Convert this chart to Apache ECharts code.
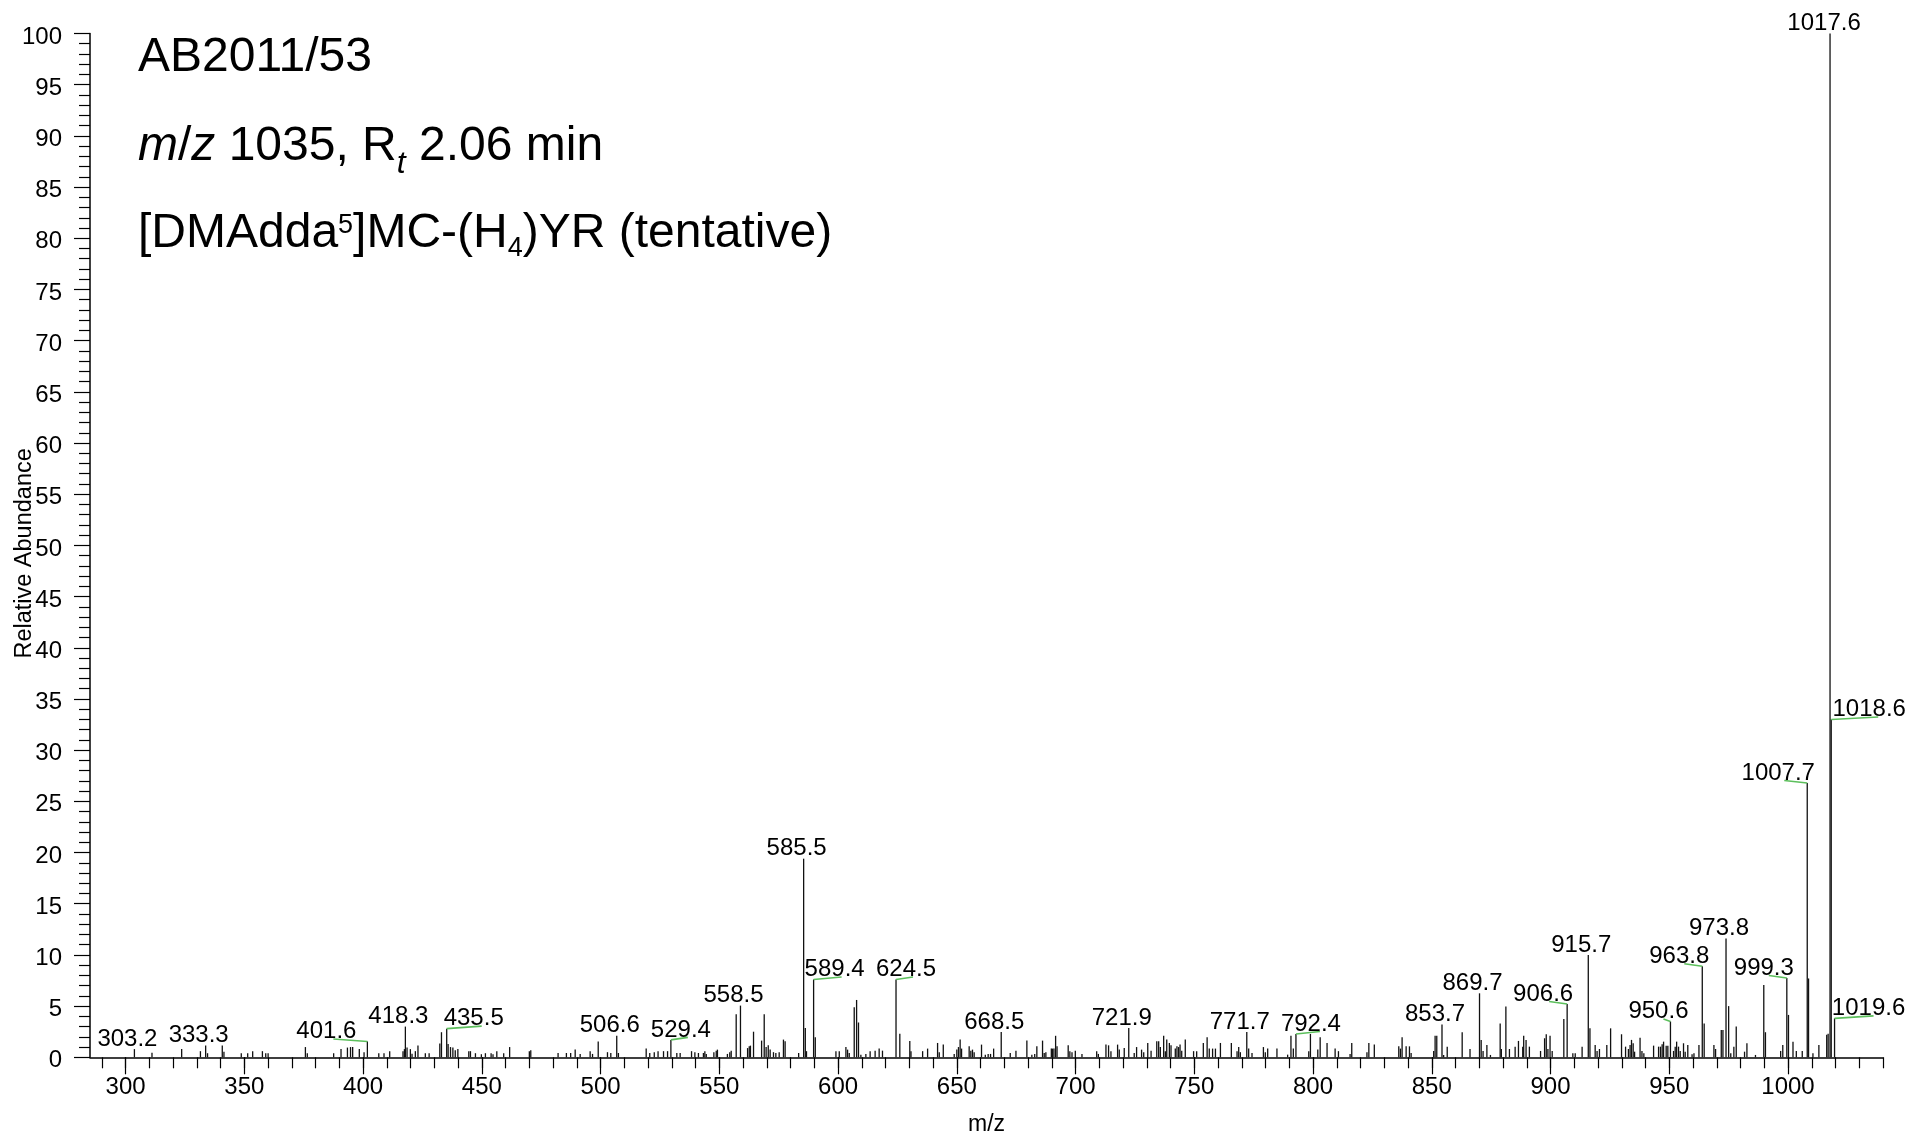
<!DOCTYPE html>
<html><head><meta charset="utf-8">
<script src="https://cdn.jsdelivr.net/npm/echarts@6/dist/echarts.min.js"></script>
<style>html,body{margin:0;padding:0;background:#fff}#c{width:1928px;height:1137px}</style>
</head><body><div id="c"></div>
<script>
// ---------------- DATA ----------------
const peakMz = [
303.7,311.1,323.6,331.5,333.7,334.5,340.7,341.4,348.7,351.4,353.5,357.6,359.0,360.0,375.7,376.5,387.6,390.7,393.4,394.7,
395.6,398.4,400.4,401.8,406.6,408.8,411.2,416.8,417.4,417.8,418.5,419.9,420.6,422.0,423.1,426.2,427.8,432.3,433.0,435.2,
435.8,436.8,437.8,438.8,439.9,444.5,445.2,447.3,449.8,451.5,453.9,454.7,456.3,459.2,461.7,470.0,470.6,482.1,485.6,487.4,
489.3,491.4,495.6,496.6,499.0,502.9,504.3,506.8,507.5,519.2,520.7,522.6,524.2,526.5,528.2,529.6,532.1,533.5,538.3,539.7,
541.2,543.3,543.9,544.5,547.7,548.7,549.2,553.4,554.4,555.0,557.1,558.9,561.9,562.6,563.1,564.4,567.8,568.9,569.7,570.6,
571.4,572.8,573.8,575.2,577.0,577.7,583.4,585.5,586.2,586.7,589.7,590.4,599.1,600.5,603.3,604.0,604.7,606.8,607.8,608.6,
609.6,611.7,613.5,615.6,617.3,618.7,624.4,626.0,630.2,630.7,635.6,637.7,641.9,642.6,644.3,648.9,650.0,650.7,651.4,652.0,
655.2,655.9,656.6,657.3,660.4,662.0,663.2,664.2,665.5,668.7,672.5,674.9,679.5,681.6,682.8,683.7,686.1,686.8,687.5,689.8,
690.3,690.9,691.6,692.2,696.9,697.6,698.5,699.9,702.7,708.9,709.6,712.8,713.9,714.9,717.7,718.4,720.5,722.4,724.7,725.7,
727.8,728.7,730.4,731.8,734.2,735.0,735.7,737.1,737.8,738.4,739.5,740.2,742.0,742.7,743.4,744.0,744.7,746.2,749.7,751.0,
753.8,755.4,756.3,757.7,758.9,761.0,765.6,768.0,768.7,769.4,772.1,772.9,774.3,779.1,779.9,780.9,784.8,789.3,790.7,791.7,
792.8,798.2,798.9,802.0,803.0,805.9,809.3,810.7,815.6,816.3,822.7,823.5,825.8,836.1,836.8,837.5,839.2,840.6,841.3,850.8,
851.4,852.1,854.3,855.0,856.5,862.8,866.1,870.1,870.8,871.6,873.2,874.7,878.8,879.3,881.2,882.7,885.1,886.5,888.3,888.7,
889.7,891.1,895.8,897.5,898.2,898.9,899.8,900.7,905.6,907.0,909.4,910.4,913.3,915.9,916.6,918.8,919.6,920.6,923.7,925.3,
929.9,931.6,932.8,933.5,934.1,934.8,935.4,937.7,938.5,939.3,943.4,945.5,946.3,947.0,947.6,948.7,949.4,950.5,951.8,952.5,
953.1,953.9,954.6,956.0,956.7,957.8,959.6,960.4,962.5,963.9,964.7,968.8,969.5,971.9,972.6,973.9,975.0,975.9,977.2,978.2,
981.7,982.7,986.3,989.8,990.5,996.9,997.8,999.5,1000.2,1002.1,1003.5,1006.0,1008.1,1008.65,1010.5,1013.0,1016.3,1016.9,1017.7,1018.2,
1019.6
];
const peakInt = [
0.8,0.45,0.8,0.6,1.15,0.4,1.15,0.55,0.4,0.4,0.6,0.6,0.4,0.4,1.0,0.4,0.4,0.8,0.95,1.0,
1.0,0.8,0.5,1.55,0.4,0.4,0.6,0.6,0.8,3.0,0.95,0.8,0.35,0.6,1.15,0.4,0.4,1.35,2.45,2.8,
1.3,1.0,0.95,0.7,0.8,0.6,0.6,0.4,0.3,0.4,0.4,0.3,0.6,0.4,1.0,0.6,0.7,0.42,0.42,0.42,
0.75,0.33,0.6,0.33,1.55,0.5,0.42,2.1,0.42,0.85,0.42,0.5,0.6,0.6,0.6,1.7,0.42,0.42,0.6,0.5,
0.42,0.42,0.6,0.33,0.5,0.65,0.75,0.33,0.5,0.65,4.2,5.05,0.9,1.07,1.14,2.5,1.63,4.2,1.0,1.17,
0.75,0.5,0.42,0.5,1.73,1.56,0.42,19.4,2.87,0.6,7.6,1.95,0.6,0.6,1.0,0.75,0.42,4.9,5.6,3.4,
0.26,0.33,0.6,0.65,0.85,0.65,7.6,2.3,1.6,0.6,0.6,0.85,1.4,0.5,1.24,0.33,0.75,1.0,1.73,0.85,
1.07,0.65,0.75,0.5,1.24,0.26,0.33,0.33,0.85,2.48,0.42,0.65,1.63,0.26,0.33,1.07,1.63,0.42,0.5,0.85,
0.85,0.85,2.1,1.07,1.17,0.6,0.5,0.65,0.33,0.6,0.33,1.24,1.17,0.6,1.24,0.75,0.9,2.87,0.42,1.0,
0.75,0.5,1.4,0.65,1.56,1.56,1.0,2.1,0.6,1.73,1.4,1.17,0.85,1.07,1.0,1.24,0.65,1.73,0.6,0.6,
1.4,1.95,0.85,0.85,0.85,1.4,1.4,0.6,1.0,0.5,2.48,0.85,0.42,1.0,0.5,0.85,0.85,0.26,2.1,0.85,
2.28,0.6,2.28,0.75,1.95,1.4,0.85,0.6,0.33,1.4,0.5,1.4,1.24,1.07,0.85,1.95,1.07,1.07,0.42,0.62,
2.1,2.1,3.2,0.23,1.04,2.45,0.81,6.25,1.7,0.62,1.2,0.23,3.3,0.81,4.95,0.81,1.04,1.6,1.04,2.1,
1.7,1.04,0.62,1.86,2.25,0.81,2.1,0.62,3.75,5.2,0.39,0.39,1.04,10.0,2.83,1.2,0.62,0.81,1.2,2.83,
2.25,1.04,0.81,1.2,1.7,1.37,0.55,1.92,0.62,0.39,1.14,1.04,1.04,1.27,1.53,1.14,1.14,3.5,0.62,1.04,
1.53,1.04,0.62,1.37,0.55,1.2,0.29,0.39,1.2,8.9,3.3,1.2,0.81,2.67,2.67,11.6,5.0,0.39,1.04,3.0,
0.55,1.37,0.23,7.07,2.45,0.62,1.2,7.75,4.14,1.53,0.62,0.62,26.8,7.7,0.39,1.2,2.2,2.3,100,33.0,
3.8
];
// labelled peaks: position (as in peakMz) and printed text
const labelMz = [303.7,333.7,401.8,417.8,435.2,506.8,529.6,558.9,585.5,589.7,624.4,668.7,722.4,772.1,792.8,
  854.3,870.1,907.0,915.9,950.5,963.9,973.9,999.5,1008.1,1017.7,1018.2,1019.6];
const labelText = ['303.2','333.3','401.6','418.3','435.5','506.6','529.4','558.5','585.5','589.4','624.5','668.5','721.9','771.7','792.4',
  '853.7','869.7','906.6','915.7','950.6','963.8','973.8','999.3','1007.7','1017.6','1018.6','1019.6'];
const xMajorTicks = [300,350,400,450,500,550,600,650,700,750,800,850,900,950,1000];
const xMinorTicks = [290,300,310,320,330,340,350,360,370,380,390,400,410,420,430,440,450,460,470,480,490,500,510,520,530,540,
  550,560,570,580,590,600,610,620,630,640,650,660,670,680,690,700,710,720,730,740,750,760,770,780,790,800,810,820,830,840,
  850,860,870,880,890,900,910,920,930,940,950,960,970,980,990,1000,1010,1020,1030,1040];

// ---------------- LAYOUT (label placement, px) ----------------
const labelDx =  [-7,-7,-41,-7,27,-7,10,-7,-7,21,10,-7,-7,-7,15, -7,-7,-24,-7,-12,-23,-7,-23,-29,-6,38,34];
const leaderDx = [0,0,-34,0,35,0,17,0,0,28,17,0,0,0,24, 0,0,-18,0,-7,-18,0,-18,-23,0,47,39];

const FONT = '"Liberation Sans", Arial, Helvetica, sans-serif';
const chart = echarts.init(document.getElementById('c'), null, {renderer: 'canvas'});

const peakData = peakMz.map((m, i) => [m, peakInt[i]]);
const labelData = labelMz.map((m, i) => [m, peakInt[peakMz.indexOf(m)], i]);

const titleRich = {
  n: {fontSize: 48, fontFamily: FONT, color: '#000', lineHeight: 58},
  i: {fontSize: 48, fontFamily: FONT, fontStyle: 'italic', color: '#000', lineHeight: 58},
  sub: {fontSize: 32, fontFamily: FONT, fontStyle: 'italic', color: '#000', lineHeight: 20, padding: [34, 0, 0, 0]},
  sup: {fontSize: 27, fontFamily: FONT, color: '#000', lineHeight: 20, padding: [0, 0, 16, 0]},
  sub2: {fontSize: 27, fontFamily: FONT, color: '#000', lineHeight: 20, padding: [30, 0, 0, 0]}
};

const option = {
  backgroundColor: '#fff',
  animation: false,
  grid: {left: 90, right: 45, top: 33.5, bottom: 79.7, containLabel: false, outerBoundsMode: 'none'},
  xAxis: [{
    type: 'value', min: 285, max: 1040,
    name: 'm/z', nameLocation: 'middle', nameGap: 55.5, nameMoveOverlap: false,
    nameTextStyle: {fontSize: 23, fontFamily: FONT, color: '#000'},
    axisLine: {show: true, onZero: false, lineStyle: {color: '#000', width: 1.5}},
    axisTick: {show: true, customValues: xMajorTicks, length: 17, lineStyle: {color: '#000', width: 1.2}},
    axisLabel: {customValues: xMajorTicks, fontSize: 24, fontFamily: FONT, color: '#000', margin: 18,
      formatter: function (v) { return String(v); }},
    splitLine: {show: false}
  }, {
    type: 'value', min: 285, max: 1040, position: 'bottom',
    axisLine: {show: false},
    axisTick: {show: true, customValues: xMinorTicks, length: 11, lineStyle: {color: '#000', width: 1.2}},
    axisLabel: {show: false},
    splitLine: {show: false}
  }],
  yAxis: {
    type: 'value', min: 0, max: 100, interval: 5,
    name: 'Relative Abundance', nameLocation: 'middle', nameGap: 53.5, nameRotate: 90, nameMoveOverlap: false,
    nameTextStyle: {fontSize: 23.5, fontFamily: FONT, color: '#000', padding: [0, 16, 0, 0]},
    axisLine: {show: true, lineStyle: {color: '#000', width: 1.5}},
    axisTick: {show: true, length: 16, lineStyle: {color: '#000', width: 1.2}},
    minorTick: {show: true, splitNumber: 5, length: 11, lineStyle: {color: '#000', width: 1.2}},
    axisLabel: {margin: 28,
      formatter: function (v) { return '{a|' + v + '}'; },
      rich: {a: {fontSize: 24, fontFamily: FONT, color: '#000', lineHeight: 26, padding: [7, 0, 0, 0]}}},
    splitLine: {show: false}, minorSplitLine: {show: false}
  },
  graphic: [
    {type: 'text', x: 138, y: 58, style: {text: 'AB2011/53', font: '48px ' + FONT, fill: '#000', verticalAlign: 'middle', align: 'left'}},
    {type: 'text', x: 138, y: 147, style: {text: '{i|m}{n|/}{i|z}{n| 1035, R}{sub|t}{n| 2.06 min}', rich: titleRich, verticalAlign: 'middle', align: 'left'}},
    {type: 'text', x: 138, y: 234, style: {text: '{n|[DMAdda}{sup|5}{n|]MC-(H}{sub2|4}{n|)YR (tentative)}', rich: titleRich, verticalAlign: 'middle', align: 'left'}}
  ],
  series: [{
    type: 'custom', name: 'peaks', xAxisIndex: 0, yAxisIndex: 0,
    encode: {x: 0, y: 1},
    data: peakData,
    renderItem: function (params, api) {
      const p0 = api.coord([api.value(0), 0]);
      const p1 = api.coord([api.value(0), api.value(1)]);
      return {type: 'line', silent: true,
        shape: {x1: p0[0], y1: p0[1], x2: p1[0], y2: p1[1]},
        style: {stroke: '#111', lineWidth: 1.3}};
    }
  }, {
    type: 'custom', name: 'labels', xAxisIndex: 0, yAxisIndex: 0,
    encode: {x: 0, y: 1},
    data: labelData,
    z: 3,
    renderItem: function (params, api) {
      const i = api.value(2);
      const top = api.coord([api.value(0), api.value(1)]);
      const children = [];
      if (leaderDx[i]) {
        children.push({type: 'line', silent: true,
          shape: {x1: top[0], y1: top[1], x2: top[0] + leaderDx[i], y2: top[1] - 2.5},
          style: {stroke: '#5cbf5c', lineWidth: 1.6}});
      }
      children.push({type: 'text', silent: true, x: top[0] + labelDx[i], y: top[1] - 10,
        style: {text: labelText[i], font: '24px ' + FONT, fill: '#000',
          align: 'center', verticalAlign: 'middle', textAlign: 'center', textVerticalAlign: 'middle'}});
      return {type: 'group', children: children};
    }
  }]
};
chart.setOption(option);
</script>
</body></html>
